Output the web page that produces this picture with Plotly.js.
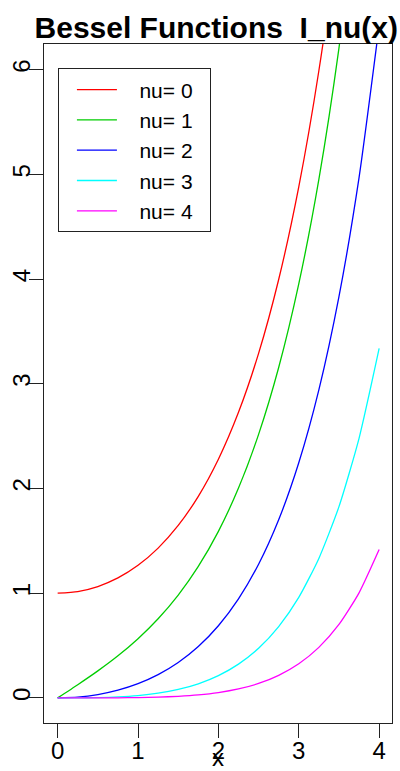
<!DOCTYPE html>
<html>
<head>
<meta charset="utf-8">
<script src="https://cdn.plot.ly/plotly-3.0.1.min.js"></script>
<style>html,body{margin:0;padding:0;background:#fff;}#chart{width:400px;height:771px;}</style>
</head>
<body>
<div id="chart"></div>
<script>
// x values and Bessel I_nu(x) values
var xVals = [0, 0.25, 0.5, 0.75, 1, 1.25, 1.5, 1.75, 2, 2.25, 2.5, 2.75, 3, 3.25, 3.5, 3.75, 4];
var nu0 = [1, 1.0157, 1.0635, 1.1456, 1.2661, 1.4305, 1.6467, 1.9253, 2.2796, 2.7271, 3.2898, 3.9959, 4.8808, 5.9893, 7.3782, 9.1189, 11.3019];
var nu1 = [0, 0.1260, 0.2579, 0.4020, 0.5652, 0.7553, 0.9817, 1.2555, 1.5906, 2.0040, 2.5167, 3.1554, 3.9534, 4.9525, 6.2058, 7.7800, 9.7595];
var nu2 = [0, 0.0079, 0.0319, 0.0737, 0.1357, 0.2220, 0.3378, 0.4904, 0.6889, 0.9458, 1.2765, 1.7011, 2.2452, 2.9416, 3.8320, 4.9695, 6.4222];
var nu3 = [0, 0.0003, 0.0026, 0.0091, 0.0222, 0.0448, 0.0808, 0.1347, 0.2127, 0.3226, 0.4739, 0.6811, 0.9598, 1.3321, 1.8264, 2.4791, 3.3373];
var nu4 = [0, 0.0000, 0.0002, 0.0008, 0.0027, 0.0069, 0.0148, 0.0284, 0.0507, 0.0855, 0.1375, 0.2150, 0.3257, 0.4824, 0.7011, 1.0030, 1.4163];
var seriesNames = ["nu= 0", "nu= 1", "nu= 2", "nu= 3", "nu= 4"];
var seriesColors = ["#FF0000", "#00CD00", "#0000FF", "#00FFFF", "#FF00FF"];
var xTicks = [0, 1, 2, 3, 4];
var yTicks = [0, 1, 2, 3, 4, 5, 6];

var NB = "\u00a0";
var allSeries = [nu0, nu1, nu2, nu3, nu4];
var traces = allSeries.map(function (ys, i) {
  return {
    x: xVals, y: ys, type: "scatter", mode: "lines",
    name: NB + NB + NB + seriesNames[i] + NB + NB,
    line: {color: seriesColors[i], width: 1.3, shape: "spline", smoothing: 0.6}
  };
});

var FONT = "Liberation Sans, Arial, Helvetica, sans-serif";
var axisCommon = {
  showgrid: false, zeroline: false, showline: true, mirror: true,
  linecolor: "#222", linewidth: 1,
  ticks: "outside", ticklen: 14, tickwidth: 1, tickcolor: "#222",
  tickfont: {family: FONT, size: 24, color: "#000"}
};

var layout = {
  width: 400, height: 771,
  margin: {l: 44, r: 8, t: 44, b: 48},
  paper_bgcolor: "#fff", plot_bgcolor: "#fff",
  title: {
    text: "Bessel Functions" + NB + NB + "I_nu(x)",
    font: {family: FONT, size: 30, weight: "bold", color: "#000"},
    xref: "paper", x: 0.495, xanchor: "center",
    yref: "container", y: 0.964, yanchor: "middle"
  },
  xaxis: Object.assign({}, axisCommon, {
    range: [-0.17, 4.16], tickmode: "array", tickvals: xTicks,
    ticktext: xTicks.map(String), ticklabelstandoff: -8,
    title: {text: "x", font: {family: FONT, size: 24, color: "#000"}, standoff: 0}
  }),
  yaxis: Object.assign({}, axisCommon, {
    range: [-0.24, 6.245], tickmode: "array", tickvals: yTicks,
    ticktext: yTicks.map(String), tickangle: -90, ticklabelstandoff: -11
  }),
  showlegend: true,
  legend: {
    x: 0.04, xanchor: "left", y: 0.964, yanchor: "top",
    bgcolor: "#fff", bordercolor: "#222", borderwidth: 1,
    font: {family: FONT, size: 21, color: "#000"},
    itemwidth: 40, tracegroupgap: 0, indentation: 13
  }
};

Plotly.newPlot("chart", traces, layout, {staticPlot: true, displayModeBar: false});
</script>
</body>
</html>
